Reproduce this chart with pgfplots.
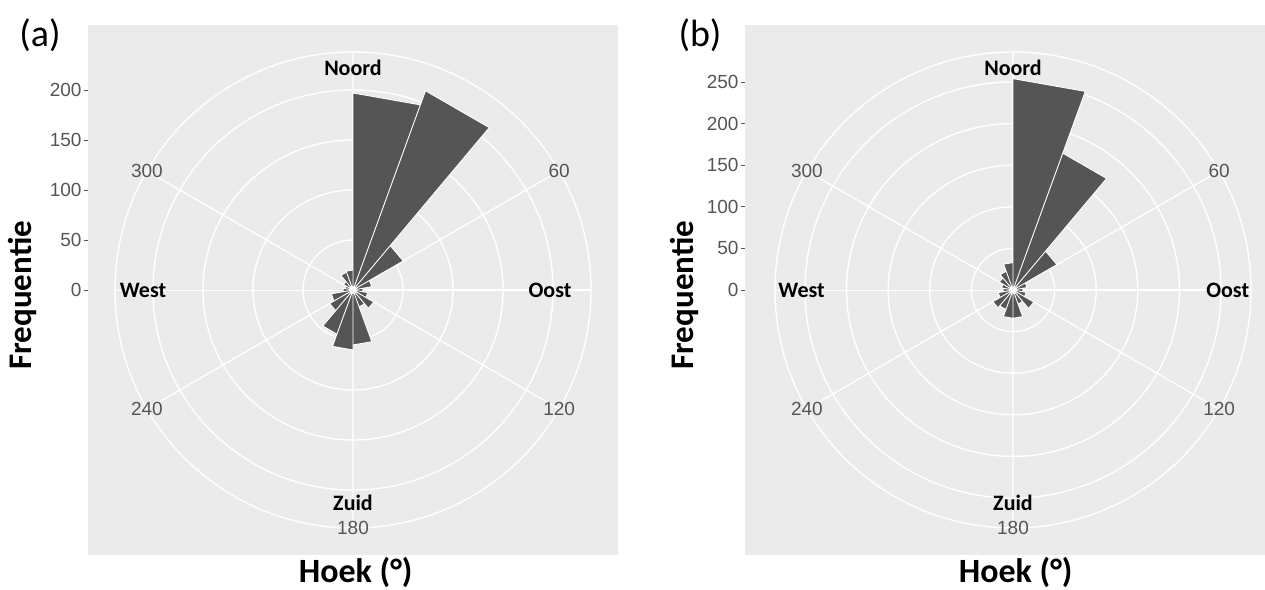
\documentclass[border=0pt]{standalone}
\usepackage{pgfplots}
\pgfplotsset{compat=1.18}
\usepgfplotslibrary{polar}
\usepackage{pgfplotstable}
\usepackage{fontspec}
\setmainfont{Carlito}
\newfontfamily\arialf{Liberation Sans}
\definecolor{panelbg}{HTML}{EBEBEB}
\definecolor{barc}{HTML}{555555}
\definecolor{tickc}{HTML}{555555}

% compass angle a (deg, clockwise from north), count r; wedge polygons
\pgfplotstableread{
a r
0 0
0 197
20 197
0 0
20 212
40 212
0 0
40 58
60 58
0 0
60 19
80 19
0 0
80 10
100 10
0 0
100 15
120 15
0 0
120 24
140 24
0 0
140 18
160 18
0 0
160 55
180 55
0 0
180 60
200 60
0 0
200 47
220 47
0 0
220 27
240 27
0 0
240 22
260 22
0 0
260 10
280 10
0 0
280 8
300 8
0 0
300 11
320 11
0 0
320 19
340 19
0 0
340 20
360 20
0 0
}\tabA

\pgfplotstableread{
a r
0 0
0 254
20 254
0 0
20 175
40 175
0 0
40 61
60 61
0 0
60 17
80 17
0 0
80 12
100 12
0 0
100 16
120 16
0 0
120 29
140 29
0 0
140 18
160 18
0 0
160 34
180 34
0 0
180 34
200 34
0 0
200 25
220 25
0 0
220 28
240 28
0 0
240 18
260 18
0 0
260 12
280 12
0 0
280 14
300 14
0 0
300 19
320 19
0 0
320 24
340 24
0 0
340 33
360 33
0 0
}\tabB

\pgfplotsset{
  bgpanel/.style={
    scale only axis, height=530bp,
    axis background/.style={fill=panelbg},
    axis line style={draw=none},
    xtick=\empty,
    ytick pos=left,
    tick align=outside, major tick length=4bp,
    ytick style={draw=tickc, line width=0.9bp},
    /pgf/number format/assume math mode=true,
    yticklabel style={font=\arialf\fontsize{19bp}{22bp}\selectfont, text=tickc, xshift=1bp},
    ylabel={Frequentie},
    ylabel style={font=\bfseries\fontsize{33bp}{40bp}\selectfont, anchor=center},
    xlabel={Hoek (°)},
    xlabel style={font=\bfseries\fontsize{34bp}{40bp}\selectfont, at={(axis description cs:0.505,-0.033)}, anchor=center},
  },
  rosepanel/.style={
    scale only axis, width=476bp, height=476bp,
    anchor=origin, ymin=0,
    xtick={90,30,330,270,210,150},
    xticklabels={,60,120,180,240,300},
    minor xtick={0,180},
    yticklabels={,,,,,,},
    grid=both,
    major grid style={draw=white, line width=1.4bp},
    minor grid style={draw=white, line width=0.7bp},
    axis line style={draw=white, line width=1.4bp},
    xtick style={draw=none}, ytick style={draw=none}, minor tick style={draw=none},
    xticklabel style={anchor=center, font=\arialf\fontsize{19bp}{22bp}\selectfont, text=tickc},
    clip=false,
  },
  wedge/.style={fill=barc, draw=white, line width=0.9bp},
}
\tikzset{dirlab/.style={font=\bfseries\fontsize{22bp}{26bp}\selectfont, text=black}}

\begin{document}
\begin{tikzpicture}
\useasboundingbox (0,0) rectangle (1265bp,590bp);

% ---------- panel (a) ----------
\begin{axis}[bgpanel, width=530bp, at={(88bp,35bp)}, anchor=south west,
  xmin=-265, xmax=265, ymin=-265, ymax=265, ytick={0,50,...,200},
  ylabel style={at={(axis description cs:-0.123,0.49)}}]
\end{axis}
\begin{polaraxis}[rosepanel, at={(353bp,300bp)}, ymax=238, ytick={50,100,150,200}]
\addplot[wedge] table[x expr={mod(450-\thisrow{a},360)}, y=r] {\tabA};
\node[dirlab] at (axis cs:90,222) {Noord};
\node[dirlab] at (axis cs:0,197) {Oost};
\node[dirlab] at (axis cs:270,213) {Zuid};
\node[dirlab] at (axis cs:180,210) {West};
\end{polaraxis}
\node[font=\fontsize{38bp}{42bp}\selectfont] at (40bp,555bp) {(a)};

% ---------- panel (b) ----------
\begin{axis}[bgpanel, width=536bp, at={(745bp,35bp)}, anchor=south west,
  xmin=-268, xmax=268, ymin=-318.5, ymax=318.5, ytick={0,50,...,250},
  ylabel style={at={(axis description cs:-0.113,0.49)}}]
\end{axis}
\begin{polaraxis}[rosepanel, at={(1013bp,300bp)}, ymax=286, ytick={50,100,150,200,250}]
\addplot[wedge] table[x expr={mod(450-\thisrow{a},360)}, y=r] {\tabB};
\node[dirlab] at (axis cs:90,267) {Noord};
\node[dirlab] at (axis cs:0,258) {Oost};
\node[dirlab] at (axis cs:270,256) {Zuid};
\node[dirlab] at (axis cs:180,254) {West};
\end{polaraxis}
\node[font=\fontsize{38bp}{42bp}\selectfont] at (700bp,555bp) {(b)};
\end{tikzpicture}
\end{document}
